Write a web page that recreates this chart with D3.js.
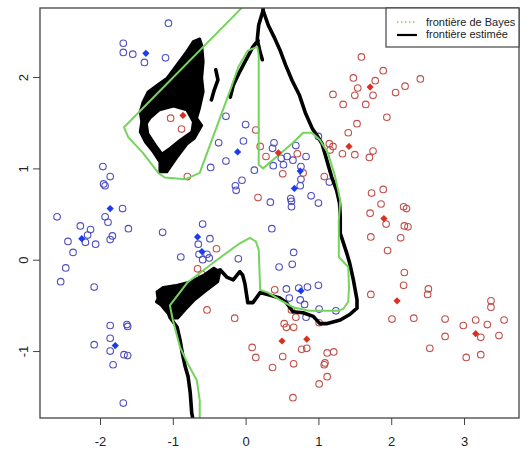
<!DOCTYPE html>
<html>
<head>
<meta charset="utf-8">
<script src="https://cdn.jsdelivr.net/npm/d3@7"></script>
<style>
  body { margin: 0; background: #fff; }
  text { font-family: "Liberation Sans", Arial, sans-serif; }
</style>
</head>
<body>
<div id="chart"></div>
<script>
//Svg size
const c_width = 521;
const c_height = 451;

//plot box (pixels)
const box = {left: 40, right: 519, top: 8, bottom: 418};

//Axis ticks
const xTicks = [-2, -1, 0, 1, 2, 3];
const yTicks = [-1, 0, 1, 2];

//Class 1 (blue) observations
const bluePoints = [
  [-1.06,2.59],[-1.68,2.37],[-1.68,2.27],[-1.55,2.25],[-1.39,2.16],[-1.10,2.21],
  [-0.27,1.57],[0.00,1.48],[-0.37,1.28],[-0.03,1.30],[-0.70,1.41],[-0.27,1.08],
  [-0.48,1.01],[0.12,0.98],[-0.05,0.87],[-0.14,0.81],[-0.13,0.76],
  [-1.96,1.02],[-1.86,0.91],[-1.95,0.83],[-1.93,0.81],[-1.69,0.56],[-2.59,0.47],[-1.93,0.47],
  [-2.27,0.37],[-1.89,0.41],[-1.61,0.34],[-2.13,0.33],[-2.17,0.27],[-1.83,0.26],[-1.86,0.22],
  [-2.44,0.20],[-2.20,0.19],[-2.06,0.17],[-2.37,0.08],[-2.47,-0.09],[-2.54,-0.24],[-2.08,-0.30],
  [-1.14,0.30],[-0.59,0.39],[-0.49,0.23],[-0.65,0.17],[-0.64,0.06],[-0.53,0.06],[-0.59,0.00],
  [-0.50,0.02],[-0.89,0.03],[-0.10,0.01],
  [-1.86,-0.72],[-1.63,-0.71],[-1.62,-0.73],[-1.86,-0.86],[-2.08,-0.93],[-1.86,-1.00],
  [-1.67,-1.04],[-1.62,-1.05],[-1.82,-1.15],[-1.68,-1.57],
  [0.39,1.28],[0.37,1.22],[0.69,1.25],[0.49,1.11],[0.57,1.13],[0.65,1.09],[0.83,1.13],
  [0.38,1.03],[0.52,1.04],[0.76,1.02],[0.76,0.88],[0.75,0.81],[0.90,0.70],[0.62,0.67],
  [0.63,0.64],[0.63,0.58],[1.00,0.62],[0.34,0.63],[1.00,1.35],[1.15,0.85],
  [0.36,0.34],[0.66,0.08],[0.46,-0.08],[0.64,-0.05],[0.56,-0.32],[0.73,-0.31],[0.85,-0.30],
  [1.00,-0.28],[0.60,-0.42],[0.75,-0.44],[0.81,-0.49],[1.01,-0.54],[1.24,-0.56],[0.83,-0.63]
];

//Class 2 (red) observations
const redPoints = [
  [-1.03,1.55],[-0.88,1.43],[-0.80,0.91],[0.14,1.42],[-0.74,1.98],[0.20,1.24],[0.17,0.68],
  [1.59,2.22],[1.89,2.07],[1.48,1.99],[1.78,1.96],[1.54,1.88],[2.40,1.98],[2.19,1.90],
  [2.06,1.83],[1.20,1.81],[1.50,1.80],[1.75,1.80],[1.34,1.70],[1.65,1.70],[1.94,1.56],
  [1.53,1.49],[1.41,1.39],[1.15,1.27],[1.20,1.24],[1.16,1.20],[1.33,1.16],[1.50,1.15],
  [1.75,1.19],[1.70,1.12],[1.08,0.91],[1.89,0.77],[1.73,0.73],[1.86,0.61],[2.17,0.58],
  [2.21,0.56],[1.71,0.51],[0.28,1.13],[0.71,1.16],[0.51,0.94],[0.79,0.95],
  [-0.40,0.12],[-0.66,-0.10],[-0.60,-0.16],[-0.53,-0.55],[-0.15,-0.64],[0.09,-0.96],
  [0.14,-1.07],[-0.44,-0.19],
  [0.40,-0.33],[0.63,-0.55],[0.69,-0.63],[0.53,-0.70],[0.56,-0.74],[0.66,-0.74],[1.01,-0.69],
  [0.77,-0.98],[0.84,-0.97],[0.51,-1.06],[0.37,-1.18],[0.66,-1.14],[1.12,-1.02],[1.21,-1.01],
  [1.08,-1.15],[1.09,-1.13],[1.12,-1.28],[1.01,-1.36],[0.65,-1.51],
  [1.93,0.39],[2.18,0.37],[2.23,0.36],[1.72,0.25],[2.13,0.24],[1.95,0.10],[2.18,-0.14],
  [2.17,-0.28],[1.72,-0.38],[2.51,-0.32],[2.50,-0.38],[2.01,-0.65],[2.31,-0.64],[2.53,-0.97],
  [2.74,-0.65],[2.74,-0.84],[2.99,-0.72],[3.16,-0.66],[3.23,-0.85],[3.03,-1.07],[3.23,-1.04],
  [3.32,-0.71],[3.48,-0.83],[3.55,-0.66],[3.37,-0.45],[3.37,-0.52]
];

//Mixture centres
const blueCenters = [
  [-1.37,2.26],[-0.11,1.18],[-1.86,0.56],[-2.25,0.23],[-0.66,0.25],
  [-0.60,0.09],[-1.79,-0.94],[0.75,0.97],[0.67,0.78],[0.76,-0.34]
];
const redCenters = [
  [-0.86,1.58],[1.71,1.89],[1.42,1.24],[0.45,1.17],[1.90,0.45],
  [0.50,-0.89],[0.84,-0.87],[2.08,-0.45],[3.16,-0.81]
];

//Bayes boundary
const bayesBoundary = [
  [-0.05,2.76],[-1.67,1.45],[-1.61,1.34],[-1.41,1.17],[-1.20,0.95],[-1.11,0.90],[-0.83,0.88],
  [-0.63,0.95],[-0.21,1.86],[-0.10,2.11],[0.03,2.29],[0.16,2.33],[0.18,2.24],[0.18,1.04],
  [0.24,1.00],[0.65,1.28],[0.79,1.39],[0.91,1.39],[1.02,1.31],[1.13,1.17],[1.23,0.91],
  [1.30,0.65],[1.28,0.43],[1.28,0.03],[1.41,-0.08],[1.42,-0.30],[1.41,-0.46],[1.34,-0.54],
  [1.26,-0.56],[0.88,-0.56],[0.65,-0.52],[0.47,-0.44],[0.31,-0.36],[0.20,-0.33],[0.18,0.11],
  [0.14,0.20],[0.06,0.24],[-0.08,0.18],[-0.39,0.00],[-0.80,-0.25],[-1.04,-0.50],[-1.00,-0.66],
  [-0.90,-0.96],[-0.80,-1.13],[-0.67,-1.32],[-0.63,-1.54],[-0.63,-1.75]
];

//Estimated boundary: line pieces
const estMain = [
  [0.24,2.76],[0.24,2.73],[0.31,2.57],[0.39,2.44],[0.47,2.30],[0.55,2.13],[0.64,1.96],
  [0.74,1.80],[0.82,1.61],[0.92,1.43],[0.98,1.36],
  [1.05,1.27],[1.09,1.16],[1.14,1.02],[1.18,0.91],[1.25,0.76],[1.29,0.62],[1.30,0.47],
  [1.30,0.29],[1.39,0.07],[1.43,-0.04],[1.48,-0.22],[1.53,-0.44],[1.53,-0.53],[1.43,-0.60],
  [1.30,-0.66],[1.11,-0.70],[1.02,-0.70],[0.93,-0.62],[0.79,-0.58],[0.65,-0.57],[0.56,-0.47],
  [0.47,-0.42],[0.34,-0.39],[0.20,-0.36],[0.10,-0.47],[0.03,-0.47],[-0.01,-0.26],[-0.04,-0.17],
  [-0.08,-0.13],[-0.17,-0.22],[-0.26,-0.19],[-0.35,-0.11],[-0.45,-0.15],[-0.53,-0.26],
  [-0.67,-0.30],[-0.86,-0.28],[-1.04,-0.30],[-1.18,-0.41],[-1.22,-0.46],[-1.08,-0.53],
  [-1.04,-0.63],[-0.94,-0.74],[-0.90,-0.88],[-0.87,-1.02],[-0.83,-1.17],[-0.79,-1.28],
  [-0.76,-1.46],[-0.74,-1.68],[-0.72,-1.76]
];
const estTop = [[0.24,2.73],[0.18,2.57],[0.16,2.41],[0.20,2.27],[0.23,2.19]];
const estStrandA = [[-0.47,1.75],[-0.43,1.86],[-0.38,1.97],[-0.41,2.08]];
const estStrandB = [[-0.21,1.78],[-0.17,1.91],[-0.08,2.06],[0.02,2.21],[0.10,2.33],[0.17,2.40]];
const estLines = [estMain, estTop, estStrandA, estStrandB];

//Estimated boundary: dense blobs (outline, hole)
const blobUpper = [
  [-0.63,2.42],[-0.72,2.39],[-0.81,2.28],[-0.95,2.13],[-1.08,1.99],[-1.22,1.91],[-1.34,1.84],
  [-1.41,1.73],[-1.45,1.62],[-1.43,1.51],[-1.45,1.40],[-1.38,1.29],[-1.27,1.18],[-1.18,1.07],
  [-1.18,0.96],[-1.08,0.96],[-0.95,1.11],[-0.81,1.26],[-0.70,1.33],[-0.60,1.47],[-0.67,1.55],
  [-0.63,1.66],[-0.58,1.84],[-0.60,1.99],[-0.58,2.17],[-0.60,2.35]
];
const blobUpperHole = [
  [-1.31,1.55],[-1.18,1.64],[-0.99,1.68],[-0.81,1.64],[-0.72,1.51],[-0.74,1.40],[-0.90,1.31],
  [-1.04,1.22],[-1.15,1.16],[-1.24,1.26],[-1.34,1.38],[-1.36,1.49]
];
const blobLower = [
  [-1.22,-0.35],[-1.13,-0.30],[-0.95,-0.28],[-0.76,-0.24],[-0.58,-0.17],[-0.44,-0.09],
  [-0.35,-0.13],[-0.38,-0.24],[-0.56,-0.35],[-0.70,-0.44],[-0.83,-0.55],[-0.93,-0.64],
  [-1.01,-0.64],[-1.11,-0.55],[-1.20,-0.46]
];

//Legend
const legendLabels = ["frontière de Bayes", "frontière estimée"];

//The svg container
const svg = d3.select("#chart")
              .append("svg")
              .attr("width", c_width)
              .attr("height", c_height);

//Scales
const xScale = d3.scaleLinear()
                 .domain([-2.824, 3.755])
                 .range([box.left, box.right]);
const yScale = d3.scaleLinear()
                 .domain([-1.733, 2.756])
                 .range([box.bottom, box.top]);

svg.append("clipPath").attr("id", "clip")
   .append("rect")
   .attr("x", box.left).attr("y", box.top)
   .attr("width", box.right - box.left).attr("height", box.bottom - box.top);

const plot = svg.append("g").attr("clip-path", "url(#clip)");

//Observations
plot.selectAll(".blue")
    .data(bluePoints)
    .enter()
    .append("circle")
    .attr("class", "blue")
    .attr("cx", d => xScale(d[0]))
    .attr("cy", d => yScale(d[1]))
    .attr("r", 3.3)
    .attr("fill", "none")
    .attr("stroke", "#4f4fc0")
    .attr("stroke-width", 1.1);

plot.selectAll(".red")
    .data(redPoints)
    .enter()
    .append("circle")
    .attr("class", "red")
    .attr("cx", d => xScale(d[0]))
    .attr("cy", d => yScale(d[1]))
    .attr("r", 3.3)
    .attr("fill", "none")
    .attr("stroke", "#c0504a")
    .attr("stroke-width", 1.1);

//Boundaries
const line = d3.line()
               .x(d => xScale(d[0]))
               .y(d => yScale(d[1]));
const closed = d3.line()
                 .x(d => xScale(d[0]))
                 .y(d => yScale(d[1]))
                 .curve(d3.curveLinearClosed);

plot.selectAll(".blob")
    .data([closed(blobUpper) + closed(blobUpperHole), closed(blobLower)])
    .enter()
    .append("path")
    .attr("class", "blob")
    .attr("d", d => d)
    .attr("fill", "#000")
    .attr("fill-rule", "evenodd")
    .attr("stroke", "#000")
    .attr("stroke-width", 2.5)
    .attr("stroke-linejoin", "round");

plot.selectAll(".est")
    .data(estLines)
    .enter()
    .append("path")
    .attr("class", "est")
    .attr("d", line)
    .attr("fill", "none")
    .attr("stroke", "#000")
    .attr("stroke-width", 3.6)
    .attr("stroke-linejoin", "round")
    .attr("stroke-linecap", "round");

plot.append("path")
    .attr("d", line(bayesBoundary))
    .attr("fill", "none")
    .attr("stroke", "#74d45c")
    .attr("stroke-width", 2)
    .attr("stroke-linejoin", "round");

//Centres
const diamond = d3.symbol().type(d3.symbolSquare).size(26);

plot.selectAll(".bc")
    .data(blueCenters)
    .enter()
    .append("path")
    .attr("d", diamond)
    .attr("transform", d => "translate(" + xScale(d[0]) + "," + yScale(d[1]) + ") rotate(45)")
    .attr("fill", "#1a3cf0");

plot.selectAll(".rc")
    .data(redCenters)
    .enter()
    .append("path")
    .attr("d", diamond)
    .attr("transform", d => "translate(" + xScale(d[0]) + "," + yScale(d[1]) + ") rotate(45)")
    .attr("fill", "#d63222");

//Axes
const xAxis = d3.axisBottom(xScale).tickValues(xTicks).tickSize(7).tickFormat(d3.format("d"));
const yAxis = d3.axisLeft(yScale).tickValues(yTicks).tickSize(7).tickFormat(d3.format("d"));

const gx = svg.append("g")
              .attr("transform", "translate(0," + box.bottom + ")")
              .call(xAxis);
gx.select(".domain").remove();
gx.selectAll("line").attr("stroke", "#444");
gx.selectAll("text")
  .attr("y", 19)
  .attr("dy", "0.71em")
  .attr("font-size", 13)
  .attr("fill", "#222")
  .attr("font-family", "Liberation Sans, Arial, sans-serif")
  .text(d => d < 0 ? "-" + Math.abs(d) : d);

const gy = svg.append("g")
              .attr("transform", "translate(" + box.left + ",0)")
              .call(yAxis);
gy.select(".domain").remove();
gy.selectAll("line").attr("stroke", "#444");
gy.selectAll("text")
  .attr("x", 0)
  .attr("dy", 0)
  .attr("text-anchor", "middle")
  .attr("transform", "translate(-12.5,0) rotate(-90)")
  .attr("font-size", 13)
  .attr("fill", "#222")
  .attr("font-family", "Liberation Sans, Arial, sans-serif")
  .text(d => d < 0 ? "-" + Math.abs(d) : d);

//Box
svg.append("rect")
   .attr("x", box.left).attr("y", box.top)
   .attr("width", box.right - box.left).attr("height", box.bottom - box.top)
   .attr("fill", "none")
   .attr("stroke", "#444")
   .attr("stroke-width", 1.3);

//Legend
const legend = svg.append("g");
legend.append("rect")
      .attr("x", 386).attr("y", box.top)
      .attr("width", box.right - 386).attr("height", 39)
      .attr("fill", "#fff")
      .attr("stroke", "#444")
      .attr("stroke-width", 1.2);

legend.append("line")
      .attr("x1", 397).attr("x2", 417).attr("y1", 22).attr("y2", 22)
      .attr("stroke", "#74d45c").attr("stroke-width", 1.5)
      .attr("stroke-dasharray", "1.5,2.5");
legend.append("line")
      .attr("x1", 397).attr("x2", 417).attr("y1", 35).attr("y2", 35)
      .attr("stroke", "#000").attr("stroke-width", 2.2);

legend.selectAll(".lab")
      .data(legendLabels)
      .enter()
      .append("text")
      .attr("x", 426)
      .attr("y", (d, i) => 25.5 + i * 12.5)
      .attr("font-size", 11)
      .attr("fill", "#222")
      .text(d => d);
</script>
</body>
</html>
